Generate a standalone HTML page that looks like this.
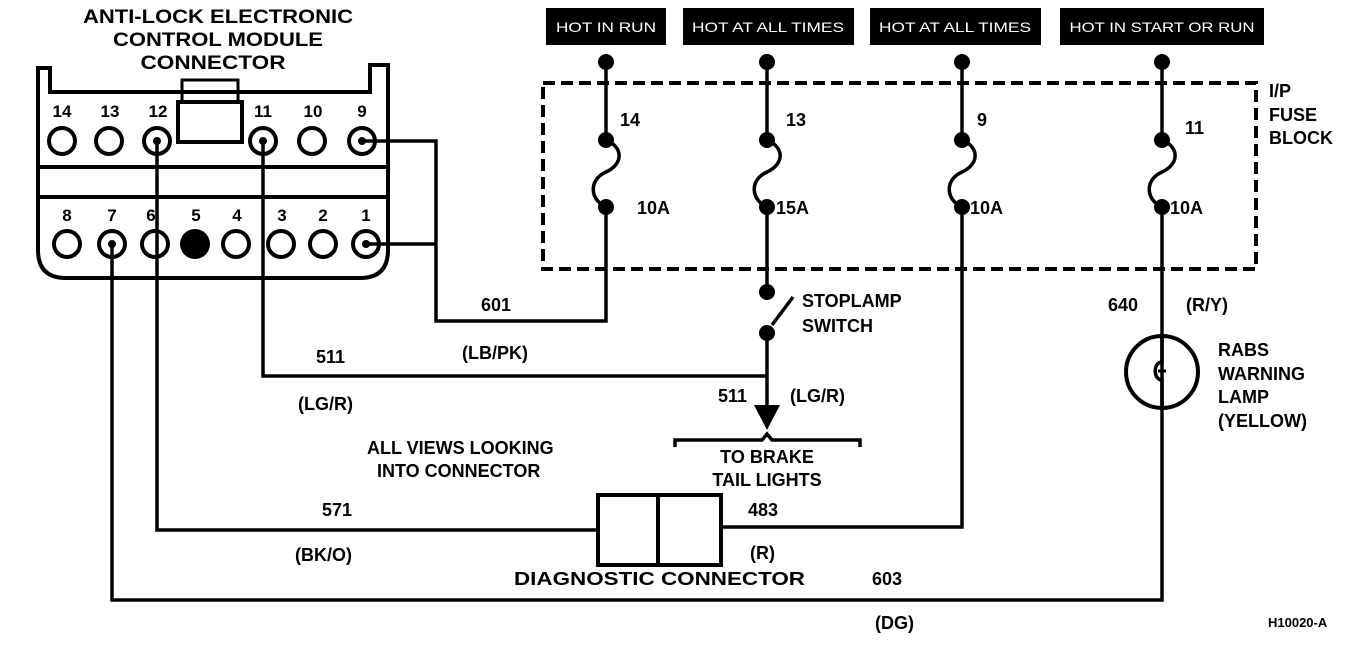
<!DOCTYPE html>
<html><head><meta charset="utf-8"><style>
html,body{margin:0;padding:0;background:#fff}
svg text{font-family:"Liberation Sans",Arial,sans-serif;font-weight:bold;fill:#000}
</style></head><body>
<svg width="1360" height="642" viewBox="0 0 1360 642" xmlns="http://www.w3.org/2000/svg">
<g font-size="19">
<text x="218" y="23" text-anchor="middle" textLength="270" lengthAdjust="spacingAndGlyphs">ANTI-LOCK ELECTRONIC</text>
<text x="218" y="46" text-anchor="middle" textLength="210" lengthAdjust="spacingAndGlyphs">CONTROL MODULE</text>
<text x="213" y="69" text-anchor="middle" textLength="145" lengthAdjust="spacingAndGlyphs">CONNECTOR</text>
</g>
<g fill="none" stroke="#000" stroke-width="4">
<path d="M38,68 H50 V92 H370 V65 H388 V250 Q388,278 360,278 H66 Q38,278 38,250 Z"/>
<line x1="38" y1="167" x2="388" y2="167"/>
<line x1="38" y1="197" x2="388" y2="197"/>
<rect x="182" y="80" width="56" height="22" stroke-width="3"/>
<rect x="178" y="102" width="64" height="40"/>
</g>
<g fill="none" stroke="#000" stroke-width="4">
<circle cx="62" cy="141" r="13"/><circle cx="109" cy="141" r="13"/><circle cx="157" cy="141" r="13"/>
<circle cx="263" cy="141" r="13"/><circle cx="312" cy="141" r="13"/><circle cx="362" cy="141" r="13"/>
<circle cx="67" cy="244" r="13"/><circle cx="112" cy="244" r="13"/><circle cx="155" cy="244" r="13"/>
<circle cx="236" cy="244" r="13"/><circle cx="281" cy="244" r="13"/><circle cx="323" cy="244" r="13"/><circle cx="366" cy="244" r="13"/>
</g>
<circle cx="195" cy="244" r="15" fill="#000"/>
<g fill="#000"><circle cx="157" cy="141" r="4"/><circle cx="263" cy="141" r="4"/><circle cx="362" cy="141" r="4"/><circle cx="112" cy="244" r="4"/><circle cx="366" cy="244" r="4"/></g>
<g font-size="17">
<text x="62" y="117" text-anchor="middle">14</text><text x="110" y="117" text-anchor="middle">13</text><text x="158" y="117" text-anchor="middle">12</text>
<text x="263" y="117" text-anchor="middle">11</text><text x="313" y="117" text-anchor="middle">10</text><text x="362" y="117" text-anchor="middle">9</text>
<text x="67" y="221" text-anchor="middle">8</text><text x="112" y="221" text-anchor="middle">7</text><text x="151" y="221" text-anchor="middle">6</text>
<text x="196" y="221" text-anchor="middle">5</text><text x="237" y="221" text-anchor="middle">4</text><text x="282" y="221" text-anchor="middle">3</text>
<text x="323" y="221" text-anchor="middle">2</text><text x="366" y="221" text-anchor="middle">1</text>
</g>
<g fill="none" stroke="#000" stroke-width="3.5">
<path d="M362,141 H436 V321 H606 V207"/>
<path d="M366,244 H436"/>
<path d="M263,141 V376 H767"/>
<path d="M157,141 V530 H597"/>
<path d="M112,244 V600 H1162 V207"/>
<path d="M962,207 V527 H722"/>
<path d="M606,62 V140"/><path d="M767,62 V140"/><path d="M962,62 V140"/><path d="M1162,62 V140"/>
<path d="M767,207 V292"/>
<path d="M767,333 V410"/>
<path d="M772,325 L793,297"/>
<path d="M606,140 C625,148 622,165 606,172 C588,180 590,200 606,207"/>
<path d="M767,140 C786,148 783,165 767,172 C749,180 751,200 767,207"/>
<path d="M962,140 C981,148 978,165 962,172 C944,180 946,200 962,207"/>
<path d="M1162,140 C1181,148 1178,165 1162,172 C1144,180 1146,200 1162,207"/>
<path d="M675,447 V440 H762 L767,434 L772,440 H860 V447"/>
<rect x="598" y="495" width="123" height="70" stroke-width="4"/>
<line x1="658" y1="495" x2="658" y2="565" stroke-width="4"/>
<circle cx="1162" cy="372" r="36" stroke-width="4"/>
<path d="M1162,336 V362 C1153,362 1153,380 1162,380 V408"/>
<path d="M1158,371 H1166" stroke-width="3"/>
</g>
<rect x="543" y="83" width="713" height="186" fill="none" stroke="#000" stroke-width="4" stroke-dasharray="12,6"/>
<polygon points="754,405 780,405 767,430" fill="#000"/>
<g fill="#000">
<circle cx="606" cy="62" r="8"/><circle cx="767" cy="62" r="8"/><circle cx="962" cy="62" r="8"/><circle cx="1162" cy="62" r="8"/>
<circle cx="606" cy="140" r="8"/><circle cx="767" cy="140" r="8"/><circle cx="962" cy="140" r="8"/><circle cx="1162" cy="140" r="8"/>
<circle cx="606" cy="207" r="8"/><circle cx="767" cy="207" r="8"/><circle cx="962" cy="207" r="8"/><circle cx="1162" cy="207" r="8"/>
<circle cx="767" cy="292" r="8"/><circle cx="767" cy="333" r="8"/>
</g>
<g>
<rect x="546" y="8" width="120" height="37" fill="#000"/>
<rect x="683" y="8" width="171" height="37" fill="#000"/>
<rect x="870" y="8" width="171" height="37" fill="#000"/>
<rect x="1060" y="8" width="204" height="37" fill="#000"/>
</g>
<g font-size="14">
<text x="606" y="32" text-anchor="middle" style="fill:#fff;font-weight:normal" textLength="100" lengthAdjust="spacingAndGlyphs">HOT IN RUN</text>
<text x="768" y="32" text-anchor="middle" style="fill:#fff;font-weight:normal" textLength="152" lengthAdjust="spacingAndGlyphs">HOT AT ALL TIMES</text>
<text x="955" y="32" text-anchor="middle" style="fill:#fff;font-weight:normal" textLength="152" lengthAdjust="spacingAndGlyphs">HOT AT ALL TIMES</text>
<text x="1162" y="32" text-anchor="middle" style="fill:#fff;font-weight:normal" textLength="185" lengthAdjust="spacingAndGlyphs">HOT IN START OR RUN</text>
</g>
<g font-size="18">
<text x="620" y="126">14</text><text x="786" y="126">13</text><text x="977" y="126">9</text><text x="1185" y="134">11</text>
<text x="637" y="214">10A</text><text x="776" y="214">15A</text><text x="970" y="214">10A</text><text x="1170" y="214">10A</text>
<text x="1269" y="97">I/P</text><text x="1269" y="121">FUSE</text><text x="1269" y="144">BLOCK</text>
<text x="802" y="307">STOPLAMP</text><text x="802" y="332">SWITCH</text>
<text x="481" y="311">601</text><text x="462" y="359">(LB/PK)</text>
<text x="316" y="363">511</text><text x="298" y="410">(LG/R)</text>
<text x="718" y="402">511</text><text x="790" y="402">(LG/R)</text>
<text x="767" y="463" text-anchor="middle">TO BRAKE</text><text x="767" y="486" text-anchor="middle">TAIL LIGHTS</text>
<text x="367" y="454">ALL VIEWS LOOKING</text><text x="377" y="477">INTO CONNECTOR</text>
<text x="322" y="516">571</text><text x="295" y="561">(BK/O)</text>
<text x="748" y="516">483</text><text x="750" y="559">(R)</text>
<text x="514" y="585" textLength="291" lengthAdjust="spacingAndGlyphs">DIAGNOSTIC CONNECTOR</text>
<text x="872" y="585">603</text><text x="875" y="629">(DG)</text>
<text x="1108" y="311">640</text><text x="1186" y="311">(R/Y)</text>
<text x="1218" y="356">RABS</text><text x="1218" y="380">WARNING</text><text x="1218" y="403">LAMP</text><text x="1218" y="427">(YELLOW)</text>
</g>
<text x="1268" y="627" font-size="13">H10020-A</text>
</svg>
</body></html>
